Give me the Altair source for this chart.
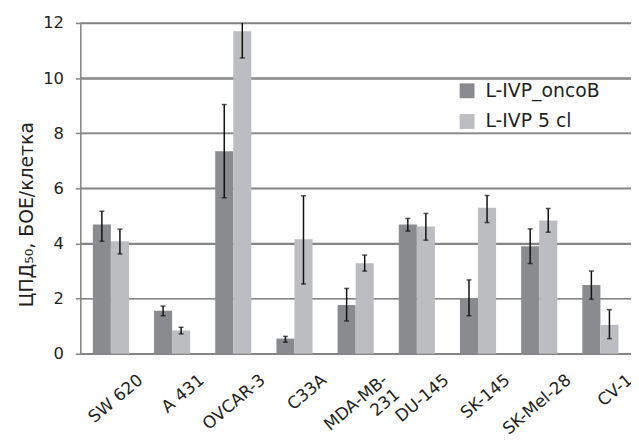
import altair as alt
import pandas as pd

cats = ["SW 620", "A 431", "OVCAR-3", "C33A", "MDA-MB-231", "DU-145", "SK-145", "SK-Mel-28", "CV-1"]
series = ["L-IVP_oncoB", "L-IVP 5 cl"]
onco = [4.69, 1.56, 7.35, 0.55, 1.77, 4.69, 2.00, 3.90, 2.49]
onco_lo = [4.08, 1.38, 5.66, 0.42, 1.19, 4.45, 1.38, 3.27, 1.98]
onco_hi = [5.17, 1.73, 9.04, 0.63, 2.37, 4.91, 2.68, 4.53, 3.00]
cl5 = [4.08, 0.84, 11.70, 4.15, 3.28, 4.62, 5.30, 4.83, 1.05]
cl5_lo = [3.62, 0.72, 10.73, 2.53, 3.00, 4.12, 4.76, 4.41, 0.55]
cl5_hi = [4.52, 0.96, 12.0, 5.73, 3.58, 5.09, 5.74, 5.27, 1.60]  # OVCAR-3 bar runs off the top
yticks = [0, 2, 4, 6, 8, 10, 12]
ymax = 12

rows = []
for i, c in enumerate(cats):
    rows.append({"cell": c, "series": series[0], "v": onco[i], "lo": onco_lo[i], "hi": onco_hi[i]})
    rows.append({"cell": c, "series": series[1], "v": cl5[i], "lo": cl5_lo[i], "hi": cl5_hi[i]})

W, H = 556, 334
FONT = "DejaVu Sans"
TXT = "#231f20"
GRID = "#858585"
YTITLE = "ЦПД₅₀, БОЕ/клетка"

xscale = alt.Scale(paddingInner=0.41, paddingOuter=0.205)
yscale = alt.Scale(domain=[0, ymax], nice=False)
X = alt.X("cell:N", sort=cats, scale=xscale, title=None,
          axis=alt.Axis(grid=False, labelAngle=-40, labelAlign="right", labelBaseline="top",
                        labelPadding=18, labelOffset=25, ticks=False, domain=True,
                        domainColor=GRID, domainWidth=1.5,
                        labelFontSize=17, labelFont=FONT, labelColor=TXT,
                        labelExpr="datum.label == 'MDA-MB-231' ? ['MDA-MB-', '231'] : datum.label",
                        labelLineHeight=19))
XO = alt.XOffset("series:N", sort=series)
yaxis = alt.Axis(values=yticks, grid=True, gridColor=GRID, gridWidth=1.5, gridOpacity=1,
                 tickColor=GRID, tickSize=5, tickWidth=1.5, domainColor=GRID, domainWidth=1.5,
                 labelFontSize=16.5, labelFont=FONT, labelColor=TXT, labelPadding=12,
                 titleFontSize=19, titleFont=FONT, titleFontWeight="normal",
                 titleColor=TXT, titleX=-44, titleY=193, titleAlign="center", titleBaseline="bottom",
                 titleAngle=-90)

gridlines = alt.Chart(alt.Data(values=[{"t": t} for t in yticks])).mark_rule(
    stroke=GRID, strokeWidth=1.5, strokeOpacity=1).encode(
    y=alt.Y("t:Q", scale=yscale, title=YTITLE, axis=yaxis),
    x=alt.value(0),
    x2=alt.value(W),
)

base = alt.Chart(alt.Data(values=rows))
bars = base.mark_bar().encode(
    x=X,
    xOffset=XO,
    y=alt.Y("v:Q", scale=yscale, title=YTITLE, axis=yaxis),
    color=alt.Color("series:N", sort=series,
                    scale=alt.Scale(domain=series, range=["#8a8b8f", "#bcbdc1"]),
                    legend=alt.Legend(title=None, orient="none", legendX=381, legendY=59,
                                      symbolType="square", symbolSize=225, symbolStrokeWidth=0,
                                      labelFontSize=19, labelFont=FONT, labelColor=TXT,
                                      rowPadding=11, labelOffset=9)),
)
err = base.mark_rule(color="#111111", strokeWidth=1.5).encode(
    x=X, xOffset=XO,
    y=alt.Y("lo:Q", scale=yscale, title=YTITLE, axis=yaxis),
    y2="hi:Q",
)
cap_lo = base.mark_tick(color="#111111", thickness=1.5, size=5, orient="horizontal").encode(
    x=X, xOffset=XO,
    y=alt.Y("lo:Q", scale=yscale, title=YTITLE, axis=yaxis),
)
cap_hi = base.transform_filter(alt.datum.hi < ymax).mark_tick(
    color="#111111", thickness=1.5, size=5, orient="horizontal").encode(
    x=X, xOffset=XO,
    y=alt.Y("hi:Q", scale=yscale, title=YTITLE, axis=yaxis),
)

chart = alt.layer(gridlines, bars, err, cap_lo, cap_hi).properties(
    width=W, height=H,
    autosize=alt.AutoSizeParams(type="none"),
    padding={"left": 73, "top": 13, "right": 0, "bottom": 88},
    background="white",
)

chart.save("out.html", embed_options={"renderer": "svg", "actions": False})
